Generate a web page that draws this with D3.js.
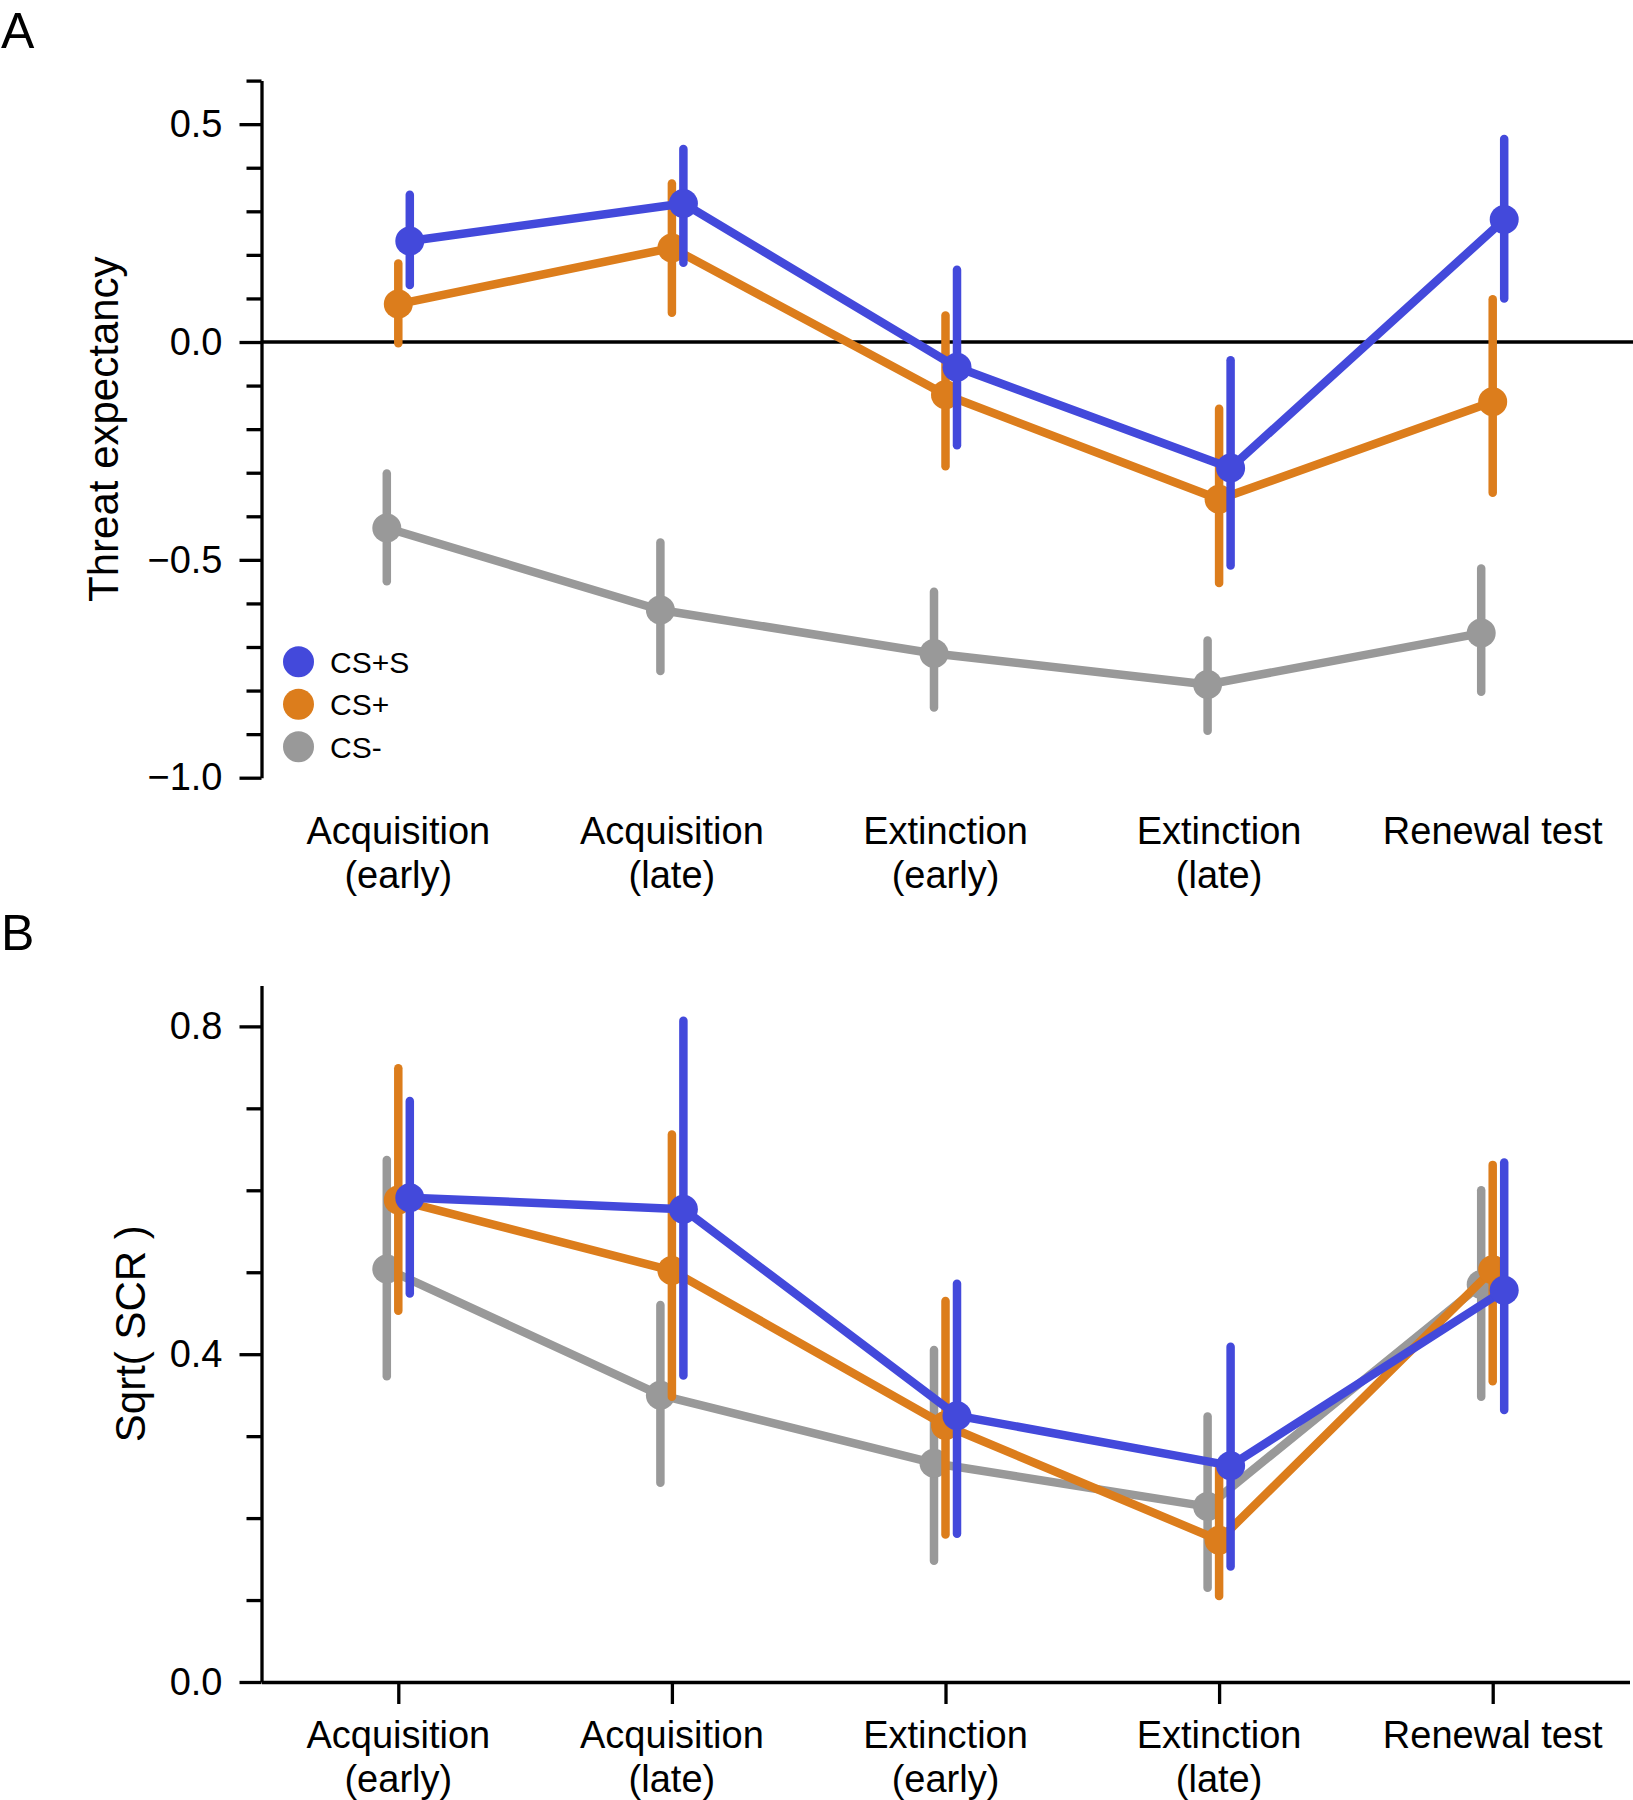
<!DOCTYPE html>
<html>
<head>
<meta charset="utf-8">
<script src="https://cdn.jsdelivr.net/npm/d3@7"></script>
<style>
  html, body { margin: 0; padding: 0; background: #fff; }
  svg { display: block; font-family: "Liberation Sans", Arial, Helvetica, sans-serif; }
</style>
</head>
<body>
<svg id="chart" width="1633" height="1800"></svg>
<script>
// ---------- data ----------
const categories = [["Acquisition", "(early)"], ["Acquisition", "(late)"], ["Extinction", "(early)"], ["Extinction", "(late)"], ["Renewal test"]];
const seriesNames = ["CS+S", "CS+", "CS-"];
const seriesColors = ["#4349db", "#dc7d1c", "#999999"];
const seriesDodge = [1, 0, -1];

// Panel A: Threat expectancy
const threatCSpS_mean = [0.232, 0.318, -0.058, -0.289, 0.281];
const threatCSpS_lo   = [0.131, 0.182, -0.237, -0.513, 0.100];
const threatCSpS_hi   = [0.338, 0.443, 0.166, -0.042, 0.466];
const threatCSp_mean  = [0.087, 0.216, -0.121, -0.361, -0.137];
const threatCSp_lo    = [-0.003, 0.067, -0.285, -0.553, -0.346];
const threatCSp_hi    = [0.180, 0.364, 0.061, -0.153, 0.098];
const threatCSm_mean  = [-0.427, -0.615, -0.715, -0.786, -0.668];
const threatCSm_lo    = [-0.549, -0.755, -0.839, -0.892, -0.803];
const threatCSm_hi    = [-0.302, -0.460, -0.573, -0.685, -0.520];

// Panel B: Sqrt(SCR)
const scrCSpS_mean = [0.591, 0.577, 0.325, 0.264, 0.478];
const scrCSpS_lo   = [0.474, 0.374, 0.181, 0.141, 0.332];
const scrCSpS_hi   = [0.709, 0.807, 0.486, 0.409, 0.634];
const scrCSp_mean  = [0.588, 0.502, 0.313, 0.173, 0.503];
const scrCSp_lo    = [0.453, 0.348, 0.180, 0.105, 0.367];
const scrCSp_hi    = [0.749, 0.668, 0.465, 0.265, 0.631];
const scrCSm_mean  = [0.504, 0.350, 0.267, 0.214, 0.485];
const scrCSm_lo    = [0.373, 0.243, 0.148, 0.115, 0.348];
const scrCSm_hi    = [0.637, 0.460, 0.405, 0.324, 0.600];

const threatTicksMajor = [-1.0, -0.5, 0.0, 0.5];
const threatTicksMinor = [-0.9, -0.8, -0.7, -0.6, -0.4, -0.3, -0.2, -0.1, 0.1, 0.2, 0.3, 0.4, 0.6];
const scrTicksMajor = [0.0, 0.4, 0.8];
const scrTicksMinor = [0.1, 0.2, 0.3, 0.5, 0.6, 0.7];

// ---------- layout ----------
const svg = d3.select("#chart");
const x = d3.scaleLinear().domain([-0.5, 4.5]).range([261.5, 1629.5]);
const dodgePx = 11.5;
const LW = 8.5, AXW = 3.3, R = 14.5;
const tickFont = 38, labFont = 42;

function drawPanel(cfg) {
  const g = svg.append("g");
  const y = cfg.y;

  const minor = g.append("g").attr("transform", `translate(${x.range()[0]},0)`)
    .call(d3.axisLeft(y).tickValues(cfg.minor).tickSize(15).tickSizeOuter(0).tickFormat(""));
  minor.select(".domain").remove();
  const major = g.append("g").attr("transform", `translate(${x.range()[0]},0)`)
    .call(d3.axisLeft(y).tickValues(cfg.major).tickSize(22).tickSizeOuter(0).tickPadding(17).tickFormat(d3.format(".1f")));
  [minor, major].forEach(a => {
    a.selectAll("line").attr("stroke", "#000").attr("stroke-width", AXW);
    a.selectAll(".domain").attr("stroke", "#000").attr("stroke-width", AXW);
    a.selectAll("text").attr("font-size", tickFont).attr("fill", "#000").attr("font-family", "Liberation Sans, Arial, sans-serif");
  });

  const baseY = y.range()[0];
  if (cfg.xAxis) {
    const xa = g.append("g").attr("transform", `translate(0,${baseY})`)
      .call(d3.axisBottom(x).tickValues([0, 1, 2, 3, 4]).tickSize(22).tickSizeOuter(0).tickFormat(""));
    xa.selectAll("line").attr("stroke", "#000").attr("stroke-width", AXW);
    xa.select(".domain").attr("stroke", "#000").attr("stroke-width", AXW);
  }
  categories.forEach((lines, i) => {
    const t = g.append("text").attr("text-anchor", "middle").attr("font-size", tickFont).attr("fill", "#000");
    lines.forEach((s, k) => {
      t.append("tspan").attr("x", x(i)).attr("y", baseY + 66 + k * 44).text(s);
    });
  });

  if (cfg.zeroLine) {
    g.append("line").attr("x1", x.range()[0]).attr("x2", 1633)
      .attr("y1", y(0)).attr("y2", y(0)).attr("stroke", "#000").attr("stroke-width", AXW);
  }

  g.append("text")
    .attr("transform", `translate(${cfg.labX},${(y.range()[0] + y.range()[1]) / 2}) rotate(-90)`)
    .attr("text-anchor", "middle").attr("font-size", labFont).attr("fill", "#000")
    .text(cfg.label);

  [2, 1, 0].forEach(s => {
    const d = cfg.data[s];
    const col = seriesColors[s];
    const xs = i => x(i) + seriesDodge[s] * dodgePx;
    const pts = d.mean.map((m, i) => [xs(i), y(m)]);
    const sg = g.append("g");
    sg.append("path").attr("d", d3.line()(pts)).attr("fill", "none")
      .attr("stroke", col).attr("stroke-width", LW).attr("stroke-linejoin", "round").attr("stroke-linecap", "round");
    sg.selectAll("line.err").data(d.mean).join("line").attr("class", "err")
      .attr("x1", (m, i) => xs(i)).attr("x2", (m, i) => xs(i))
      .attr("y1", (m, i) => y(d.lo[i])).attr("y2", (m, i) => y(d.hi[i]))
      .attr("stroke", col).attr("stroke-width", LW).attr("stroke-linecap", "round");
    sg.selectAll("circle").data(d.mean).join("circle")
      .attr("cx", (m, i) => xs(i)).attr("cy", m => y(m)).attr("r", R).attr("fill", col);
  });
}

drawPanel({
  y: d3.scaleLinear().domain([-1, 0.6]).range([777.7, 80.6]),
  major: threatTicksMajor, minor: threatTicksMinor,
  xAxis: false, zeroLine: true, label: "Threat expectancy", labX: 118,
  data: [
    { mean: threatCSpS_mean, lo: threatCSpS_lo, hi: threatCSpS_hi },
    { mean: threatCSp_mean, lo: threatCSp_lo, hi: threatCSp_hi },
    { mean: threatCSm_mean, lo: threatCSm_lo, hi: threatCSm_hi }
  ]
});

drawPanel({
  y: d3.scaleLinear().domain([0, 0.85]).range([1682, 985.4]),
  major: scrTicksMajor, minor: scrTicksMinor,
  xAxis: true, zeroLine: false, label: "Sqrt( SCR )", labX: 145,
  data: [
    { mean: scrCSpS_mean, lo: scrCSpS_lo, hi: scrCSpS_hi },
    { mean: scrCSp_mean, lo: scrCSp_lo, hi: scrCSp_hi },
    { mean: scrCSm_mean, lo: scrCSm_lo, hi: scrCSm_hi }
  ]
});

const leg = svg.append("g");
seriesNames.forEach((n, i) => {
  const ly = 661.7 + i * 42.5;
  leg.append("circle").attr("cx", 298.5).attr("cy", ly).attr("r", 15.5).attr("fill", seriesColors[i]);
  leg.append("text").attr("x", 330).attr("y", ly).attr("dy", "0.36em").attr("font-size", 30).attr("fill", "#000").text(n);
});

svg.append("text").attr("x", 1).attr("y", 48).attr("font-size", 50).attr("fill", "#000").text("A");
svg.append("text").attr("x", 1).attr("y", 950).attr("font-size", 50).attr("fill", "#000").text("B");
</script>
</body>
</html>
